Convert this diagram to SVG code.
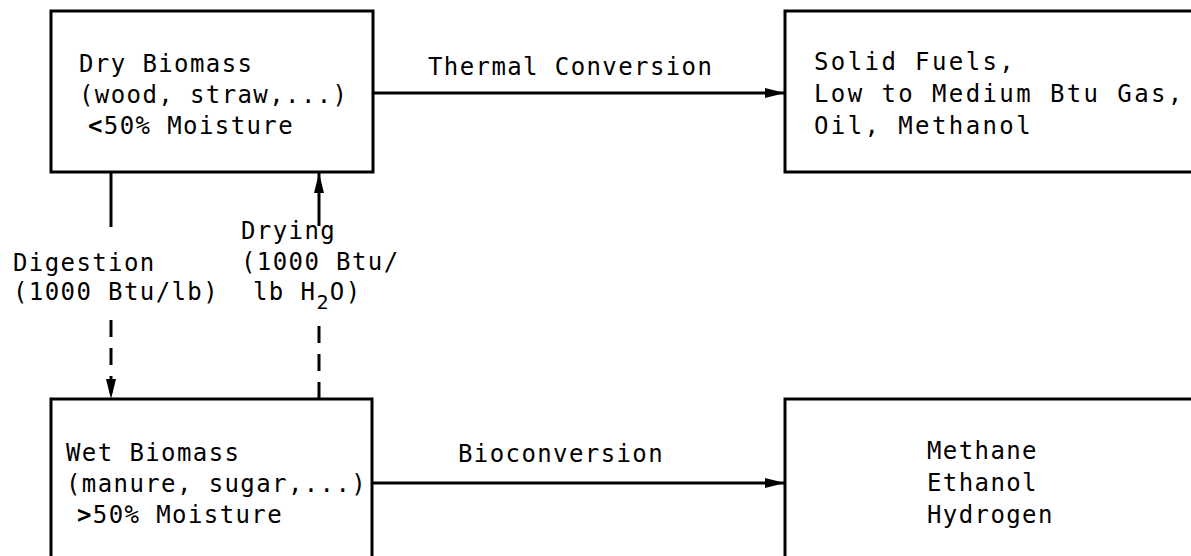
<svg xmlns="http://www.w3.org/2000/svg" width="1191" height="556" viewBox="0 0 1191 556">
<style>
.box{fill:none;stroke:#000;stroke-width:3}
.t{font-family:"DejaVu Sans Mono","Liberation Mono",monospace;font-size:24px;letter-spacing:1.4px;fill:#000}
.w{letter-spacing:2.4px}
.c{fill:none;stroke:#000;stroke-width:3}
.d{stroke-dasharray:17 11}
.b{font-weight:bold}
</style>
<defs>
<marker id="ah" markerUnits="userSpaceOnUse" markerWidth="22" markerHeight="12" refX="20" refY="6" orient="auto">
<path d="M0,1 L20,6 L0,11 Z" fill="#000"/>
</marker>
</defs>
<rect width="1191" height="556" fill="#fff"/>
<g id="dry">
<rect class="box" x="51" y="11" width="322" height="161"/>
<text class="t" x="79" y="72">Dry Biomass</text>
<text class="t" x="79" y="103">(wood, straw,...)</text>
<text class="t" x="88" y="134"><tspan class="b">&lt;</tspan>50% Moisture</text>
</g>
<g id="solid">
<path class="box" d="M1200,11 H785 V172 H1200"/>
<text class="t w" x="814" y="70">Solid Fuels,</text>
<text class="t w" x="814" y="102">Low to Medium Btu Gas,</text>
<text class="t w" x="814" y="134">Oil, Methanol</text>
</g>
<g id="wet">
<path class="box" d="M51,560 V399 H372 V560"/>
<text class="t" x="66" y="461">Wet Biomass</text>
<text class="t" x="66" y="492">(manure, sugar,...)</text>
<text class="t" x="77" y="523"><tspan class="b">&gt;</tspan>50% Moisture</text>
</g>
<g id="products">
<path class="box" d="M1200,399 H785 V560"/>
<text class="t" x="927" y="459">Methane</text>
<text class="t" x="927" y="491">Ethanol</text>
<text class="t" x="927" y="523">Hydrogen</text>
</g>
<g id="connectors">
<line class="c" x1="373" y1="93" x2="785" y2="93" marker-end="url(#ah)"/>
<line class="c" x1="372" y1="483" x2="785" y2="483" marker-end="url(#ah)"/>
<line class="c" x1="111" y1="172" x2="111" y2="227"/>
<line class="c d" x1="111" y1="320" x2="111" y2="399" marker-end="url(#ah)"/>
<line class="c" x1="319" y1="226" x2="319" y2="173" marker-end="url(#ah)"/>
<line class="c d" x1="319" y1="399" x2="319" y2="316"/>
<text class="t" x="428" y="75">Thermal Conversion</text>
<text class="t" x="458" y="462">Bioconversion</text>
<text class="t" x="13" y="271">Digestion</text>
<text class="t" x="13" y="300">(1000 Btu/lb)</text>
<text class="t" x="241" y="239">Drying</text>
<text class="t" x="241" y="270">(1000 Btu/</text>
<text class="t" x="253" y="300">lb H<tspan font-size="20" dy="9">2</tspan><tspan dy="-9">O)</tspan></text>
</g>
</svg>
